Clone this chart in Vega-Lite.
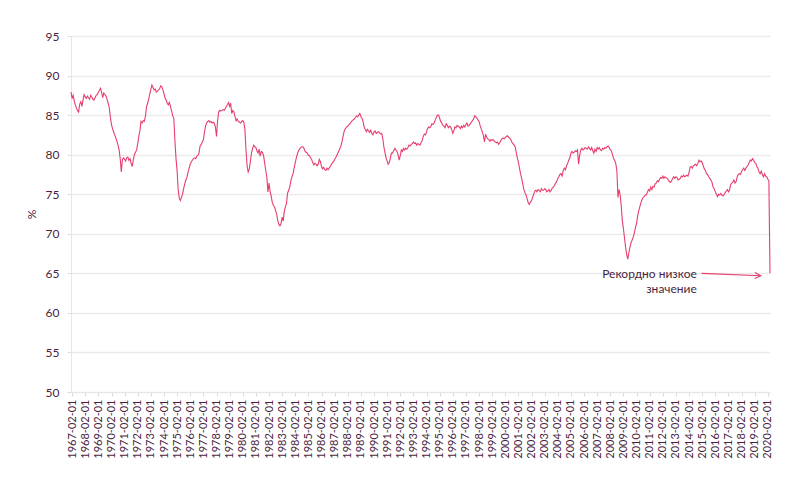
{
  "$schema": "https://vega.github.io/schema/vega-lite/v6.json",
  "width": 699,
  "height": 356,
  "autosize": {"type": "none"},
  "padding": {"left": 71, "top": 36, "right": 31, "bottom": 99},
  "background": "white",
  "config": {"view": {"stroke": null}, "font": "Lato"},
  "datasets": {
    "tcu": [
      {"date":"1967-01-01","value":87.9},{"date":"1967-02-01","value":87.1},{"date":"1967-03-01","value":87.5},{"date":"1967-04-01","value":86.8},{"date":"1967-05-01","value":86.3},{"date":"1967-06-01","value":85.9},{"date":"1967-07-01","value":85.6},{"date":"1967-08-01","value":85.4},{"date":"1967-09-01","value":86.4},{"date":"1967-10-01","value":86.7},{"date":"1967-11-01","value":86.1},{"date":"1967-12-01","value":86.9},
      {"date":"1968-01-01","value":87.6},{"date":"1968-02-01","value":87.3},{"date":"1968-03-01","value":87.1},{"date":"1968-04-01","value":87.4},{"date":"1968-05-01","value":87.2},{"date":"1968-06-01","value":87.0},{"date":"1968-07-01","value":87.5},{"date":"1968-08-01","value":87.3},{"date":"1968-09-01","value":87.0},{"date":"1968-10-01","value":86.9},{"date":"1968-11-01","value":87.2},{"date":"1968-12-01","value":87.5},
      {"date":"1969-01-01","value":87.6},{"date":"1969-02-01","value":87.9},{"date":"1969-03-01","value":88.1},{"date":"1969-04-01","value":88.4},{"date":"1969-05-01","value":87.9},{"date":"1969-06-01","value":87.2},{"date":"1969-07-01","value":87.8},{"date":"1969-08-01","value":87.6},{"date":"1969-09-01","value":87.4},{"date":"1969-10-01","value":87.0},{"date":"1969-11-01","value":86.5},{"date":"1969-12-01","value":85.9},
      {"date":"1970-01-01","value":84.7},{"date":"1970-02-01","value":83.8},{"date":"1970-03-01","value":83.3},{"date":"1970-04-01","value":82.9},{"date":"1970-05-01","value":82.5},{"date":"1970-06-01","value":82.1},{"date":"1970-07-01","value":81.7},{"date":"1970-08-01","value":81.2},{"date":"1970-09-01","value":80.6},{"date":"1970-10-01","value":79.5},{"date":"1970-11-01","value":77.8},{"date":"1970-12-01","value":79.4},
      {"date":"1971-01-01","value":79.6},{"date":"1971-02-01","value":79.4},{"date":"1971-03-01","value":79.2},{"date":"1971-04-01","value":79.6},{"date":"1971-05-01","value":79.7},{"date":"1971-06-01","value":79.3},{"date":"1971-07-01","value":79.5},{"date":"1971-08-01","value":78.9},{"date":"1971-09-01","value":78.5},{"date":"1971-10-01","value":79.4},{"date":"1971-11-01","value":80.0},{"date":"1971-12-01","value":80.3},
      {"date":"1972-01-01","value":80.6},{"date":"1972-02-01","value":81.4},{"date":"1972-03-01","value":82.3},{"date":"1972-04-01","value":83.0},{"date":"1972-05-01","value":84.2},{"date":"1972-06-01","value":84.0},{"date":"1972-07-01","value":84.3},{"date":"1972-08-01","value":84.2},{"date":"1972-09-01","value":84.8},{"date":"1972-10-01","value":86.0},{"date":"1972-11-01","value":86.5},{"date":"1972-12-01","value":87.0},
      {"date":"1973-01-01","value":87.7},{"date":"1973-02-01","value":88.3},{"date":"1973-03-01","value":88.8},{"date":"1973-04-01","value":88.5},{"date":"1973-05-01","value":88.2},{"date":"1973-06-01","value":88.3},{"date":"1973-07-01","value":87.9},{"date":"1973-08-01","value":88.0},{"date":"1973-09-01","value":88.2},{"date":"1973-10-01","value":88.3},{"date":"1973-11-01","value":88.7},{"date":"1973-12-01","value":88.6},
      {"date":"1974-01-01","value":88.2},{"date":"1974-02-01","value":87.7},{"date":"1974-03-01","value":87.2},{"date":"1974-04-01","value":86.9},{"date":"1974-05-01","value":86.5},{"date":"1974-06-01","value":86.3},{"date":"1974-07-01","value":86.6},{"date":"1974-08-01","value":86.1},{"date":"1974-09-01","value":85.5},{"date":"1974-10-01","value":84.9},{"date":"1974-11-01","value":84.6},{"date":"1974-12-01","value":81.8},
      {"date":"1975-01-01","value":79.5},{"date":"1975-02-01","value":77.9},{"date":"1975-03-01","value":75.6},{"date":"1975-04-01","value":74.5},{"date":"1975-05-01","value":74.2},{"date":"1975-06-01","value":74.6},{"date":"1975-07-01","value":75.0},{"date":"1975-08-01","value":75.7},{"date":"1975-09-01","value":76.3},{"date":"1975-10-01","value":76.8},{"date":"1975-11-01","value":77.1},{"date":"1975-12-01","value":77.8},
      {"date":"1976-01-01","value":78.3},{"date":"1976-02-01","value":78.8},{"date":"1976-03-01","value":79.1},{"date":"1976-04-01","value":79.3},{"date":"1976-05-01","value":79.5},{"date":"1976-06-01","value":79.6},{"date":"1976-07-01","value":79.5},{"date":"1976-08-01","value":79.8},{"date":"1976-09-01","value":79.9},{"date":"1976-10-01","value":80.2},{"date":"1976-11-01","value":81.1},{"date":"1976-12-01","value":81.3},
      {"date":"1977-01-01","value":81.6},{"date":"1977-02-01","value":81.9},{"date":"1977-03-01","value":82.8},{"date":"1977-04-01","value":83.6},{"date":"1977-05-01","value":84.0},{"date":"1977-06-01","value":84.2},{"date":"1977-07-01","value":84.3},{"date":"1977-08-01","value":84.1},{"date":"1977-09-01","value":84.2},{"date":"1977-10-01","value":84.0},{"date":"1977-11-01","value":84.1},{"date":"1977-12-01","value":84.0},
      {"date":"1978-01-01","value":83.5},{"date":"1978-02-01","value":82.3},{"date":"1978-03-01","value":84.2},{"date":"1978-04-01","value":85.4},{"date":"1978-05-01","value":85.6},{"date":"1978-06-01","value":85.5},{"date":"1978-07-01","value":85.6},{"date":"1978-08-01","value":85.7},{"date":"1978-09-01","value":85.6},{"date":"1978-10-01","value":85.8},{"date":"1978-11-01","value":86.1},{"date":"1978-12-01","value":86.3},
      {"date":"1979-01-01","value":86.6},{"date":"1979-02-01","value":86.1},{"date":"1979-03-01","value":86.5},{"date":"1979-04-01","value":85.2},{"date":"1979-05-01","value":85.6},{"date":"1979-06-01","value":85.4},{"date":"1979-07-01","value":84.8},{"date":"1979-08-01","value":84.3},{"date":"1979-09-01","value":84.5},{"date":"1979-10-01","value":84.2},{"date":"1979-11-01","value":84.1},{"date":"1979-12-01","value":84.0},
      {"date":"1980-01-01","value":84.2},{"date":"1980-02-01","value":84.3},{"date":"1980-03-01","value":84.1},{"date":"1980-04-01","value":83.2},{"date":"1980-05-01","value":80.6},{"date":"1980-06-01","value":78.6},{"date":"1980-07-01","value":77.8},{"date":"1980-08-01","value":78.2},{"date":"1980-09-01","value":79.2},{"date":"1980-10-01","value":80.2},{"date":"1980-11-01","value":80.8},{"date":"1980-12-01","value":81.2},
      {"date":"1981-01-01","value":81.0},{"date":"1981-02-01","value":80.9},{"date":"1981-03-01","value":80.5},{"date":"1981-04-01","value":80.2},{"date":"1981-05-01","value":80.7},{"date":"1981-06-01","value":79.8},{"date":"1981-07-01","value":80.4},{"date":"1981-08-01","value":80.3},{"date":"1981-09-01","value":79.9},{"date":"1981-10-01","value":79.0},{"date":"1981-11-01","value":78.0},{"date":"1981-12-01","value":77.2},
      {"date":"1982-01-01","value":75.3},{"date":"1982-02-01","value":76.4},{"date":"1982-03-01","value":75.4},{"date":"1982-04-01","value":74.8},{"date":"1982-05-01","value":74.0},{"date":"1982-06-01","value":73.6},{"date":"1982-07-01","value":73.4},{"date":"1982-08-01","value":73.0},{"date":"1982-09-01","value":72.5},{"date":"1982-10-01","value":71.7},{"date":"1982-11-01","value":71.2},{"date":"1982-12-01","value":71.0},
      {"date":"1983-01-01","value":71.3},{"date":"1983-02-01","value":72.1},{"date":"1983-03-01","value":71.6},{"date":"1983-04-01","value":72.8},{"date":"1983-05-01","value":73.4},{"date":"1983-06-01","value":73.8},{"date":"1983-07-01","value":75.1},{"date":"1983-08-01","value":75.5},{"date":"1983-09-01","value":75.9},{"date":"1983-10-01","value":76.7},{"date":"1983-11-01","value":77.2},{"date":"1983-12-01","value":77.6},
      {"date":"1984-01-01","value":78.3},{"date":"1984-02-01","value":79.0},{"date":"1984-03-01","value":79.6},{"date":"1984-04-01","value":80.1},{"date":"1984-05-01","value":80.5},{"date":"1984-06-01","value":80.7},{"date":"1984-07-01","value":80.9},{"date":"1984-08-01","value":81.0},{"date":"1984-09-01","value":81.0},{"date":"1984-10-01","value":80.8},{"date":"1984-11-01","value":80.4},{"date":"1984-12-01","value":80.3},
      {"date":"1985-01-01","value":80.2},{"date":"1985-02-01","value":79.9},{"date":"1985-03-01","value":79.9},{"date":"1985-04-01","value":79.6},{"date":"1985-05-01","value":79.4},{"date":"1985-06-01","value":79.0},{"date":"1985-07-01","value":78.7},{"date":"1985-08-01","value":78.9},{"date":"1985-09-01","value":78.8},{"date":"1985-10-01","value":78.6},{"date":"1985-11-01","value":78.8},{"date":"1985-12-01","value":79.4},
      {"date":"1986-01-01","value":79.1},{"date":"1986-02-01","value":78.5},{"date":"1986-03-01","value":78.2},{"date":"1986-04-01","value":78.4},{"date":"1986-05-01","value":78.1},{"date":"1986-06-01","value":78.0},{"date":"1986-07-01","value":78.3},{"date":"1986-08-01","value":78.1},{"date":"1986-09-01","value":78.3},{"date":"1986-10-01","value":78.5},{"date":"1986-11-01","value":78.8},{"date":"1986-12-01","value":79.0},
      {"date":"1987-01-01","value":79.1},{"date":"1987-02-01","value":79.4},{"date":"1987-03-01","value":79.6},{"date":"1987-04-01","value":79.9},{"date":"1987-05-01","value":80.2},{"date":"1987-06-01","value":80.5},{"date":"1987-07-01","value":80.8},{"date":"1987-08-01","value":81.2},{"date":"1987-09-01","value":81.8},{"date":"1987-10-01","value":82.5},{"date":"1987-11-01","value":83.1},{"date":"1987-12-01","value":83.3},
      {"date":"1988-01-01","value":83.5},{"date":"1988-02-01","value":83.6},{"date":"1988-03-01","value":83.8},{"date":"1988-04-01","value":83.9},{"date":"1988-05-01","value":84.1},{"date":"1988-06-01","value":84.3},{"date":"1988-07-01","value":84.4},{"date":"1988-08-01","value":84.5},{"date":"1988-09-01","value":84.7},{"date":"1988-10-01","value":84.9},{"date":"1988-11-01","value":84.8},{"date":"1988-12-01","value":85.0},
      {"date":"1989-01-01","value":85.2},{"date":"1989-02-01","value":84.8},{"date":"1989-03-01","value":84.6},{"date":"1989-04-01","value":84.2},{"date":"1989-05-01","value":83.5},{"date":"1989-06-01","value":83.2},{"date":"1989-07-01","value":82.9},{"date":"1989-08-01","value":83.2},{"date":"1989-09-01","value":83.0},{"date":"1989-10-01","value":82.8},{"date":"1989-11-01","value":83.1},{"date":"1989-12-01","value":82.7},
      {"date":"1990-01-01","value":82.5},{"date":"1990-02-01","value":82.9},{"date":"1990-03-01","value":83.0},{"date":"1990-04-01","value":82.7},{"date":"1990-05-01","value":82.8},{"date":"1990-06-01","value":82.9},{"date":"1990-07-01","value":82.8},{"date":"1990-08-01","value":82.6},{"date":"1990-09-01","value":82.7},{"date":"1990-10-01","value":82.1},{"date":"1990-11-01","value":81.0},{"date":"1990-12-01","value":80.3},
      {"date":"1991-01-01","value":79.6},{"date":"1991-02-01","value":79.2},{"date":"1991-03-01","value":78.8},{"date":"1991-04-01","value":79.0},{"date":"1991-05-01","value":79.6},{"date":"1991-06-01","value":80.2},{"date":"1991-07-01","value":80.2},{"date":"1991-08-01","value":80.5},{"date":"1991-09-01","value":80.8},{"date":"1991-10-01","value":80.6},{"date":"1991-11-01","value":80.4},{"date":"1991-12-01","value":80.0},
      {"date":"1992-01-01","value":79.3},{"date":"1992-02-01","value":79.9},{"date":"1992-03-01","value":80.6},{"date":"1992-04-01","value":80.4},{"date":"1992-05-01","value":80.8},{"date":"1992-06-01","value":80.6},{"date":"1992-07-01","value":80.8},{"date":"1992-08-01","value":80.7},{"date":"1992-09-01","value":80.9},{"date":"1992-10-01","value":81.2},{"date":"1992-11-01","value":81.1},{"date":"1992-12-01","value":81.3},
      {"date":"1993-01-01","value":81.4},{"date":"1993-02-01","value":81.6},{"date":"1993-03-01","value":81.4},{"date":"1993-04-01","value":81.5},{"date":"1993-05-01","value":81.2},{"date":"1993-06-01","value":81.4},{"date":"1993-07-01","value":81.3},{"date":"1993-08-01","value":81.2},{"date":"1993-09-01","value":81.5},{"date":"1993-10-01","value":81.8},{"date":"1993-11-01","value":82.3},{"date":"1993-12-01","value":82.6},
      {"date":"1994-01-01","value":82.5},{"date":"1994-02-01","value":82.9},{"date":"1994-03-01","value":83.3},{"date":"1994-04-01","value":83.5},{"date":"1994-05-01","value":83.4},{"date":"1994-06-01","value":83.6},{"date":"1994-07-01","value":83.9},{"date":"1994-08-01","value":83.8},{"date":"1994-09-01","value":84.0},{"date":"1994-10-01","value":84.4},{"date":"1994-11-01","value":84.7},{"date":"1994-12-01","value":85.0},
      {"date":"1995-01-01","value":85.0},{"date":"1995-02-01","value":84.6},{"date":"1995-03-01","value":84.2},{"date":"1995-04-01","value":84.0},{"date":"1995-05-01","value":83.7},{"date":"1995-06-01","value":83.6},{"date":"1995-07-01","value":83.4},{"date":"1995-08-01","value":83.9},{"date":"1995-09-01","value":83.7},{"date":"1995-10-01","value":83.4},{"date":"1995-11-01","value":83.6},{"date":"1995-12-01","value":83.5},
      {"date":"1996-01-01","value":83.2},{"date":"1996-02-01","value":82.7},{"date":"1996-03-01","value":83.0},{"date":"1996-04-01","value":83.5},{"date":"1996-05-01","value":83.4},{"date":"1996-06-01","value":83.7},{"date":"1996-07-01","value":83.6},{"date":"1996-08-01","value":83.5},{"date":"1996-09-01","value":83.3},{"date":"1996-10-01","value":83.6},{"date":"1996-11-01","value":83.4},{"date":"1996-12-01","value":83.7},
      {"date":"1997-01-01","value":83.5},{"date":"1997-02-01","value":83.8},{"date":"1997-03-01","value":84.0},{"date":"1997-04-01","value":83.6},{"date":"1997-05-01","value":83.7},{"date":"1997-06-01","value":83.9},{"date":"1997-07-01","value":84.1},{"date":"1997-08-01","value":84.3},{"date":"1997-09-01","value":84.5},{"date":"1997-10-01","value":84.9},{"date":"1997-11-01","value":84.8},{"date":"1997-12-01","value":84.6},
      {"date":"1998-01-01","value":84.4},{"date":"1998-02-01","value":84.2},{"date":"1998-03-01","value":83.7},{"date":"1998-04-01","value":83.3},{"date":"1998-05-01","value":82.9},{"date":"1998-06-01","value":82.4},{"date":"1998-07-01","value":81.6},{"date":"1998-08-01","value":82.6},{"date":"1998-09-01","value":82.2},{"date":"1998-10-01","value":82.0},{"date":"1998-11-01","value":81.9},{"date":"1998-12-01","value":81.7},
      {"date":"1999-01-01","value":81.9},{"date":"1999-02-01","value":81.8},{"date":"1999-03-01","value":81.9},{"date":"1999-04-01","value":81.7},{"date":"1999-05-01","value":81.6},{"date":"1999-06-01","value":81.5},{"date":"1999-07-01","value":81.6},{"date":"1999-08-01","value":81.3},{"date":"1999-09-01","value":81.5},{"date":"1999-10-01","value":81.8},{"date":"1999-11-01","value":82.0},{"date":"1999-12-01","value":82.1},
      {"date":"2000-01-01","value":82.0},{"date":"2000-02-01","value":82.2},{"date":"2000-03-01","value":82.3},{"date":"2000-04-01","value":82.4},{"date":"2000-05-01","value":82.2},{"date":"2000-06-01","value":82.1},{"date":"2000-07-01","value":81.9},{"date":"2000-08-01","value":81.6},{"date":"2000-09-01","value":81.4},{"date":"2000-10-01","value":81.2},{"date":"2000-11-01","value":81.0},{"date":"2000-12-01","value":80.3},
      {"date":"2001-01-01","value":79.6},{"date":"2001-02-01","value":79.0},{"date":"2001-03-01","value":78.3},{"date":"2001-04-01","value":77.6},{"date":"2001-05-01","value":77.0},{"date":"2001-06-01","value":76.3},{"date":"2001-07-01","value":75.6},{"date":"2001-08-01","value":75.2},{"date":"2001-09-01","value":74.9},{"date":"2001-10-01","value":74.4},{"date":"2001-11-01","value":73.9},{"date":"2001-12-01","value":73.7},
      {"date":"2002-01-01","value":74.0},{"date":"2002-02-01","value":74.2},{"date":"2002-03-01","value":74.6},{"date":"2002-04-01","value":75.0},{"date":"2002-05-01","value":75.4},{"date":"2002-06-01","value":75.5},{"date":"2002-07-01","value":75.3},{"date":"2002-08-01","value":75.6},{"date":"2002-09-01","value":75.5},{"date":"2002-10-01","value":75.3},{"date":"2002-11-01","value":75.7},{"date":"2002-12-01","value":75.5},
      {"date":"2003-01-01","value":75.5},{"date":"2003-02-01","value":75.7},{"date":"2003-03-01","value":75.6},{"date":"2003-04-01","value":75.3},{"date":"2003-05-01","value":75.4},{"date":"2003-06-01","value":75.6},{"date":"2003-07-01","value":75.3},{"date":"2003-08-01","value":75.5},{"date":"2003-09-01","value":75.8},{"date":"2003-10-01","value":75.9},{"date":"2003-11-01","value":76.1},{"date":"2003-12-01","value":76.4},
      {"date":"2004-01-01","value":76.6},{"date":"2004-02-01","value":77.0},{"date":"2004-03-01","value":77.2},{"date":"2004-04-01","value":77.5},{"date":"2004-05-01","value":77.6},{"date":"2004-06-01","value":77.3},{"date":"2004-07-01","value":78.0},{"date":"2004-08-01","value":78.3},{"date":"2004-09-01","value":78.1},{"date":"2004-10-01","value":78.6},{"date":"2004-11-01","value":78.9},{"date":"2004-12-01","value":79.3},
      {"date":"2005-01-01","value":79.6},{"date":"2005-02-01","value":80.2},{"date":"2005-03-01","value":80.4},{"date":"2005-04-01","value":80.2},{"date":"2005-05-01","value":80.3},{"date":"2005-06-01","value":80.5},{"date":"2005-07-01","value":80.4},{"date":"2005-08-01","value":80.6},{"date":"2005-09-01","value":78.8},{"date":"2005-10-01","value":79.9},{"date":"2005-11-01","value":80.6},{"date":"2005-12-01","value":80.8},
      {"date":"2006-01-01","value":80.6},{"date":"2006-02-01","value":80.7},{"date":"2006-03-01","value":80.9},{"date":"2006-04-01","value":80.8},{"date":"2006-05-01","value":80.7},{"date":"2006-06-01","value":81.0},{"date":"2006-07-01","value":80.8},{"date":"2006-08-01","value":80.6},{"date":"2006-09-01","value":80.9},{"date":"2006-10-01","value":80.5},{"date":"2006-11-01","value":80.2},{"date":"2006-12-01","value":80.7},
      {"date":"2007-01-01","value":80.4},{"date":"2007-02-01","value":80.9},{"date":"2007-03-01","value":80.7},{"date":"2007-04-01","value":80.9},{"date":"2007-05-01","value":80.6},{"date":"2007-06-01","value":80.5},{"date":"2007-07-01","value":80.8},{"date":"2007-08-01","value":80.7},{"date":"2007-09-01","value":80.9},{"date":"2007-10-01","value":80.8},{"date":"2007-11-01","value":81.0},{"date":"2007-12-01","value":81.1},
      {"date":"2008-01-01","value":80.9},{"date":"2008-02-01","value":80.6},{"date":"2008-03-01","value":80.5},{"date":"2008-04-01","value":80.0},{"date":"2008-05-01","value":79.5},{"date":"2008-06-01","value":79.3},{"date":"2008-07-01","value":78.9},{"date":"2008-08-01","value":78.0},{"date":"2008-09-01","value":74.6},{"date":"2008-10-01","value":75.6},{"date":"2008-11-01","value":74.9},{"date":"2008-12-01","value":73.5},
      {"date":"2009-01-01","value":71.6},{"date":"2009-02-01","value":70.6},{"date":"2009-03-01","value":69.5},{"date":"2009-04-01","value":68.3},{"date":"2009-05-01","value":67.4},{"date":"2009-06-01","value":66.8},{"date":"2009-07-01","value":67.6},{"date":"2009-08-01","value":68.3},{"date":"2009-09-01","value":68.9},{"date":"2009-10-01","value":69.2},{"date":"2009-11-01","value":69.6},{"date":"2009-12-01","value":70.1},
      {"date":"2010-01-01","value":70.8},{"date":"2010-02-01","value":71.3},{"date":"2010-03-01","value":72.2},{"date":"2010-04-01","value":72.9},{"date":"2010-05-01","value":73.4},{"date":"2010-06-01","value":73.9},{"date":"2010-07-01","value":74.3},{"date":"2010-08-01","value":74.6},{"date":"2010-09-01","value":74.7},{"date":"2010-10-01","value":74.9},{"date":"2010-11-01","value":74.9},{"date":"2010-12-01","value":75.3},
      {"date":"2011-01-01","value":75.6},{"date":"2011-02-01","value":75.4},{"date":"2011-03-01","value":75.9},{"date":"2011-04-01","value":75.6},{"date":"2011-05-01","value":76.0},{"date":"2011-06-01","value":75.9},{"date":"2011-07-01","value":76.3},{"date":"2011-08-01","value":76.4},{"date":"2011-09-01","value":76.7},{"date":"2011-10-01","value":76.6},{"date":"2011-11-01","value":76.9},{"date":"2011-12-01","value":77.1},
      {"date":"2012-01-01","value":77.0},{"date":"2012-02-01","value":77.3},{"date":"2012-03-01","value":77.0},{"date":"2012-04-01","value":77.2},{"date":"2012-05-01","value":77.1},{"date":"2012-06-01","value":77.0},{"date":"2012-07-01","value":76.8},{"date":"2012-08-01","value":76.6},{"date":"2012-09-01","value":76.5},{"date":"2012-10-01","value":76.7},{"date":"2012-11-01","value":77.0},{"date":"2012-12-01","value":77.2},
      {"date":"2013-01-01","value":77.0},{"date":"2013-02-01","value":77.2},{"date":"2013-03-01","value":77.1},{"date":"2013-04-01","value":76.8},{"date":"2013-05-01","value":76.9},{"date":"2013-06-01","value":77.0},{"date":"2013-07-01","value":77.3},{"date":"2013-08-01","value":77.2},{"date":"2013-09-01","value":77.4},{"date":"2013-10-01","value":77.2},{"date":"2013-11-01","value":77.3},{"date":"2013-12-01","value":77.4},
      {"date":"2014-01-01","value":77.3},{"date":"2014-02-01","value":77.8},{"date":"2014-03-01","value":78.4},{"date":"2014-04-01","value":78.5},{"date":"2014-05-01","value":78.3},{"date":"2014-06-01","value":78.6},{"date":"2014-07-01","value":78.7},{"date":"2014-08-01","value":78.8},{"date":"2014-09-01","value":78.6},{"date":"2014-10-01","value":78.9},{"date":"2014-11-01","value":79.3},{"date":"2014-12-01","value":79.1},
      {"date":"2015-01-01","value":79.2},{"date":"2015-02-01","value":79.0},{"date":"2015-03-01","value":78.6},{"date":"2015-04-01","value":78.2},{"date":"2015-05-01","value":78.0},{"date":"2015-06-01","value":77.6},{"date":"2015-07-01","value":77.5},{"date":"2015-08-01","value":77.2},{"date":"2015-09-01","value":77.0},{"date":"2015-10-01","value":76.8},{"date":"2015-11-01","value":76.5},{"date":"2015-12-01","value":75.9},
      {"date":"2016-01-01","value":75.7},{"date":"2016-02-01","value":75.3},{"date":"2016-03-01","value":75.0},{"date":"2016-04-01","value":74.7},{"date":"2016-05-01","value":75.0},{"date":"2016-06-01","value":74.9},{"date":"2016-07-01","value":75.1},{"date":"2016-08-01","value":74.9},{"date":"2016-09-01","value":74.8},{"date":"2016-10-01","value":74.9},{"date":"2016-11-01","value":75.2},{"date":"2016-12-01","value":75.4},
      {"date":"2017-01-01","value":75.6},{"date":"2017-02-01","value":75.3},{"date":"2017-03-01","value":75.5},{"date":"2017-04-01","value":76.2},{"date":"2017-05-01","value":76.4},{"date":"2017-06-01","value":76.5},{"date":"2017-07-01","value":76.8},{"date":"2017-08-01","value":76.4},{"date":"2017-09-01","value":76.6},{"date":"2017-10-01","value":77.2},{"date":"2017-11-01","value":77.5},{"date":"2017-12-01","value":77.6},
      {"date":"2018-01-01","value":77.5},{"date":"2018-02-01","value":77.9},{"date":"2018-03-01","value":78.1},{"date":"2018-04-01","value":78.3},{"date":"2018-05-01","value":78.0},{"date":"2018-06-01","value":78.3},{"date":"2018-07-01","value":78.5},{"date":"2018-08-01","value":78.7},{"date":"2018-09-01","value":79.0},{"date":"2018-10-01","value":79.3},{"date":"2018-11-01","value":79.2},{"date":"2018-12-01","value":79.5},
      {"date":"2019-01-01","value":79.3},{"date":"2019-02-01","value":79.0},{"date":"2019-03-01","value":78.9},{"date":"2019-04-01","value":78.5},{"date":"2019-05-01","value":78.3},{"date":"2019-06-01","value":77.8},{"date":"2019-07-01","value":77.6},{"date":"2019-08-01","value":77.9},{"date":"2019-09-01","value":77.5},{"date":"2019-10-01","value":77.2},{"date":"2019-11-01","value":77.6},{"date":"2019-12-01","value":77.3},
      {"date":"2020-01-01","value":77.2},{"date":"2020-02-01","value":76.9},{"date":"2020-03-01","value":76.7},{"date":"2020-04-01","value":65.0}
    ],
    "arrow": [
      {"date": "2015-01-15", "value": 65.0, "date2": "2019-07-20", "value2": 64.7}
    ],
    "head": [
      {"date": "2019-07-20", "value": 64.7}
    ],
    "note": [
      {"date": "2014-09-05", "value": 64.45, "label": "Рекордно низкое"},
      {"date": "2014-09-05", "value": 62.55, "label": "значение"}
    ]
  },
  "encoding": {
    "x": {
      "field": "date", "type": "temporal",
      "scale": {"type": "utc", "nice": false},
      "axis": {
        "title": null,
        "values": [
          {"year":1967,"month":2,"date":1,"utc":true},{"year":1968,"month":2,"date":1,"utc":true},{"year":1969,"month":2,"date":1,"utc":true},{"year":1970,"month":2,"date":1,"utc":true},{"year":1971,"month":2,"date":1,"utc":true},{"year":1972,"month":2,"date":1,"utc":true},{"year":1973,"month":2,"date":1,"utc":true},{"year":1974,"month":2,"date":1,"utc":true},{"year":1975,"month":2,"date":1,"utc":true},{"year":1976,"month":2,"date":1,"utc":true},
          {"year":1977,"month":2,"date":1,"utc":true},{"year":1978,"month":2,"date":1,"utc":true},{"year":1979,"month":2,"date":1,"utc":true},{"year":1980,"month":2,"date":1,"utc":true},{"year":1981,"month":2,"date":1,"utc":true},{"year":1982,"month":2,"date":1,"utc":true},{"year":1983,"month":2,"date":1,"utc":true},{"year":1984,"month":2,"date":1,"utc":true},{"year":1985,"month":2,"date":1,"utc":true},{"year":1986,"month":2,"date":1,"utc":true},
          {"year":1987,"month":2,"date":1,"utc":true},{"year":1988,"month":2,"date":1,"utc":true},{"year":1989,"month":2,"date":1,"utc":true},{"year":1990,"month":2,"date":1,"utc":true},{"year":1991,"month":2,"date":1,"utc":true},{"year":1992,"month":2,"date":1,"utc":true},{"year":1993,"month":2,"date":1,"utc":true},{"year":1994,"month":2,"date":1,"utc":true},{"year":1995,"month":2,"date":1,"utc":true},{"year":1996,"month":2,"date":1,"utc":true},
          {"year":1997,"month":2,"date":1,"utc":true},{"year":1998,"month":2,"date":1,"utc":true},{"year":1999,"month":2,"date":1,"utc":true},{"year":2000,"month":2,"date":1,"utc":true},{"year":2001,"month":2,"date":1,"utc":true},{"year":2002,"month":2,"date":1,"utc":true},{"year":2003,"month":2,"date":1,"utc":true},{"year":2004,"month":2,"date":1,"utc":true},{"year":2005,"month":2,"date":1,"utc":true},{"year":2006,"month":2,"date":1,"utc":true},
          {"year":2007,"month":2,"date":1,"utc":true},{"year":2008,"month":2,"date":1,"utc":true},{"year":2009,"month":2,"date":1,"utc":true},{"year":2010,"month":2,"date":1,"utc":true},{"year":2011,"month":2,"date":1,"utc":true},{"year":2012,"month":2,"date":1,"utc":true},{"year":2013,"month":2,"date":1,"utc":true},{"year":2014,"month":2,"date":1,"utc":true},{"year":2015,"month":2,"date":1,"utc":true},{"year":2016,"month":2,"date":1,"utc":true},
          {"year":2017,"month":2,"date":1,"utc":true},{"year":2018,"month":2,"date":1,"utc":true},{"year":2019,"month":2,"date":1,"utc":true},{"year":2020,"month":2,"date":1,"utc":true}
        ],
        "labelExpr": "utcFormat(datum.value, '%Y-%m-%d')",
        "labelAngle": -90,
        "labelFontSize": 11,
        "labelColor": "#4a1f3e",
        "labelPadding": 3,
        "labelOverlap": false,
        "labelBound": false,
        "labelFlush": false,
        "tickColor": "#dcdcdc",
        "tickSize": 4,
        "domainColor": "#e6e6e6",
        "grid": false
      }
    },
    "y": {
      "field": "value", "type": "quantitative",
      "scale": {"domain": [50, 95], "nice": false, "zero": false},
      "axis": {
        "title": "%",
        "values": [50, 55, 60, 65, 70, 75, 80, 85, 90, 95],
        "labelOverlap": false,
        "grid": true,
        "gridColor": "#ebebeb",
        "gridWidth": 1.5,
        "domainColor": "#e6e6e6",
        "tickColor": "#dcdcdc",
        "tickSize": 4,
        "labelColor": "#4a1f3e",
        "labelFontSize": 12,
        "labelPadding": 8,
        "titleColor": "#4a1f3e",
        "titleFontSize": 12,
        "titleFontWeight": "normal",
        "titlePadding": 7
      }
    }
  },
  "layer": [
    {
      "data": {"name": "tcu"},
      "mark": {"type": "line", "color": "#e63e6d", "strokeWidth": 1.1}
    },
    {
      "data": {"name": "arrow"},
      "mark": {"type": "rule", "color": "#e63e6d", "strokeWidth": 1.1},
      "encoding": {
        "x2": {"field": "date2"},
        "y2": {"field": "value2"}
      }
    },
    {
      "data": {"name": "head"},
      "mark": {"type": "point", "shape": "M-2,-1L0,0L-2,1", "filled": false, "size": 36, "stroke": "#e63e6d", "strokeWidth": 1.1, "angle": 2, "opacity": 1}
    },
    {
      "data": {"name": "note"},
      "mark": {"type": "text", "align": "right", "baseline": "alphabetic", "fontSize": 12, "color": "#4a1f3e"},
      "encoding": {
        "text": {"field": "label"}
      }
    }
  ]
}
